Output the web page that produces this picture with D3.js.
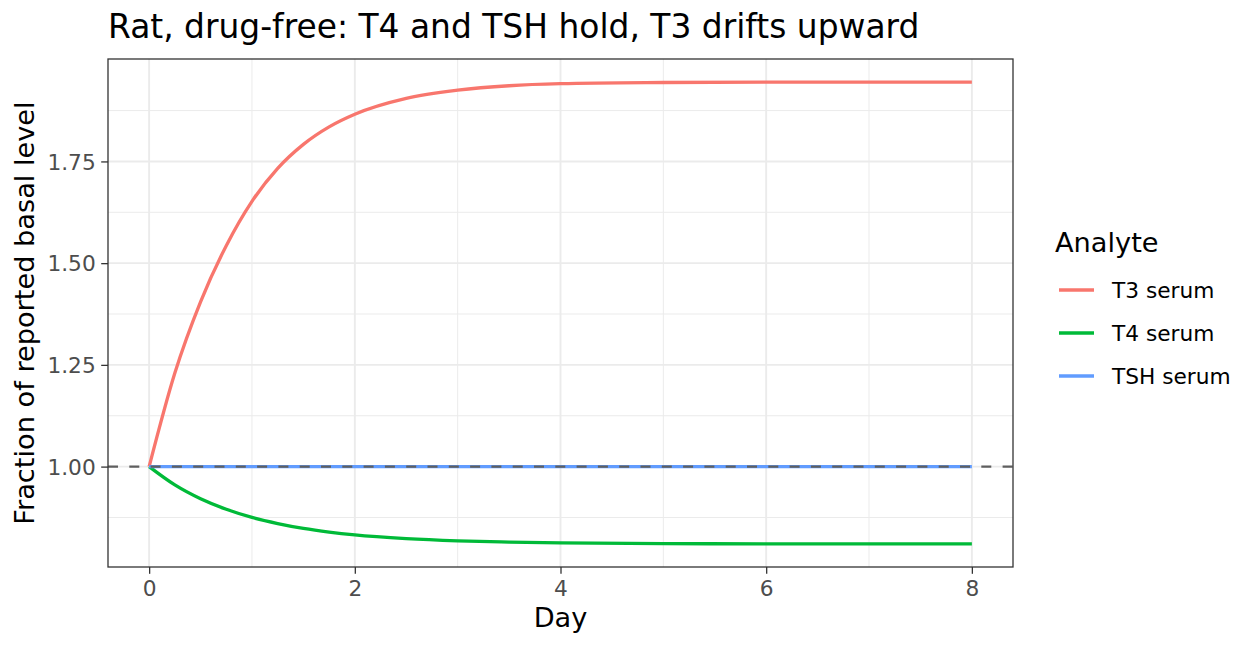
<!DOCTYPE html>
<html>
<head>
  <meta charset="utf-8">
  <script src="https://d3js.org/d3.v7.min.js"></script>
  <style>
    body {
      margin: 0;
      background: #ffffff;
    }
    svg text {
      font-family: "DejaVu Sans", sans-serif;
    }
  </style>
</head>
<body>
  <script type="text/javascript">
    "use strict";

    // values
    var days    = [0, 0.25, 0.5, 0.75, 1, 1.25, 1.5, 1.75, 2, 2.5, 3, 3.5, 4, 5, 6, 7, 8];
    var t3Vals  = [1.000, 1.230, 1.405, 1.543, 1.652, 1.733, 1.792, 1.835, 1.866, 1.905, 1.925, 1.936, 1.941, 1.944, 1.945, 1.945, 1.945];
    var t4Vals  = [1.000, 0.955, 0.921, 0.895, 0.875, 0.860, 0.848, 0.839, 0.832, 0.823, 0.8176, 0.8145, 0.8126, 0.8108, 0.8102, 0.810, 0.810];
    var tshVals = [1, 1, 1, 1, 1, 1, 1, 1, 1, 1, 1, 1, 1, 1, 1, 1, 1];

    var seriesNames  = ["T3 serum", "T4 serum", "TSH serum"];
    var seriesColors = ["#F8766D", "#00BA38", "#619CFF"];

    var xTicks = [0, 2, 4, 6, 8];
    var xMinor = [1, 3, 5, 7];
    var yTicks = [1.00, 1.25, 1.50, 1.75];
    var yMinor = [0.875, 1.125, 1.375, 1.625, 1.875];

    var baseline = 1;

    function draw() {
      var width = 1260, height = 648;
      var panel = {left: 108, right: 1013, top: 59, bottom: 567};

      var svg = d3.select("body")
                  .append("svg")
                  .attr("width", width)
                  .attr("height", height);

      var series = seriesNames.map(function(name, i) {
        var vals = [t3Vals, t4Vals, tshVals][i];
        return {
          name: name,
          color: seriesColors[i],
          points: days.map(function(d, j) { return {day: d, value: vals[j]}; })
        };
      });

      // ggplot-like 5% expansion of the data range
      var xExt = d3.extent(days);
      var xPad = (xExt[1] - xExt[0]) * 0.05;
      var yExt = d3.extent(t3Vals.concat(t4Vals, tshVals));
      var yPad = (yExt[1] - yExt[0]) * 0.05;

      var x = d3.scaleLinear()
                .domain([xExt[0] - xPad, xExt[1] + xPad])
                .range([panel.left, panel.right]);
      var y = d3.scaleLinear()
                .domain([yExt[0] - yPad, yExt[1] + yPad])
                .range([panel.bottom, panel.top]);

      // grid
      var grid = svg.append("g");
      grid.selectAll(".xminor").data(xMinor).enter().append("line")
          .attr("x1", x).attr("x2", x)
          .attr("y1", panel.top).attr("y2", panel.bottom)
          .attr("stroke", "#EBEBEB").attr("stroke-width", 1);
      grid.selectAll(".yminor").data(yMinor).enter().append("line")
          .attr("y1", y).attr("y2", y)
          .attr("x1", panel.left).attr("x2", panel.right)
          .attr("stroke", "#EBEBEB").attr("stroke-width", 1);
      grid.selectAll(".xmajor").data(xTicks).enter().append("line")
          .attr("x1", x).attr("x2", x)
          .attr("y1", panel.top).attr("y2", panel.bottom)
          .attr("stroke", "#EBEBEB").attr("stroke-width", 1.9);
      grid.selectAll(".ymajor").data(yTicks).enter().append("line")
          .attr("y1", y).attr("y2", y)
          .attr("x1", panel.left).attr("x2", panel.right)
          .attr("stroke", "#EBEBEB").attr("stroke-width", 1.9);

      // series lines
      var line = d3.line()
                   .x(function(d) { return x(d.day); })
                   .y(function(d) { return y(d.value); })
                   .curve(d3.curveMonotoneX);

      svg.append("g").selectAll("path")
         .data(series)
         .enter()
         .append("path")
         .attr("d", function(d) { return line(d.points); })
         .attr("fill", "none")
         .attr("stroke", function(d) { return d.color; })
         .attr("stroke-width", 3.3)
         .attr("stroke-linejoin", "round");

      // reference line at the basal level
      svg.append("line")
         .attr("x1", panel.left).attr("x2", panel.right)
         .attr("y1", y(baseline)).attr("y2", y(baseline))
         .attr("stroke", "#5F5F5F")
         .attr("stroke-width", 2.3)
         .attr("stroke-dasharray", "10,11.3");

      // panel border
      svg.append("rect")
         .attr("x", panel.left).attr("y", panel.top)
         .attr("width", panel.right - panel.left)
         .attr("height", panel.bottom - panel.top)
         .attr("fill", "none")
         .attr("stroke", "#333333")
         .attr("stroke-width", 1.3);

      // axes
      var xAxis = d3.axisBottom(x)
                    .tickValues(xTicks)
                    .tickFormat(d3.format("d"))
                    .tickSize(6.8)
                    .tickPadding(5);
      var gx = svg.append("g")
                  .attr("transform", "translate(0," + panel.bottom + ")")
                  .call(xAxis);

      var yAxis = d3.axisLeft(y)
                    .tickValues(yTicks)
                    .tickFormat(d3.format(".2f"))
                    .tickSize(6.8)
                    .tickPadding(5.5);
      var gy = svg.append("g")
                  .attr("transform", "translate(" + panel.left + ",0)")
                  .call(yAxis);

      [gx, gy].forEach(function(g) {
        g.select(".domain").remove();
        g.selectAll(".tick line")
         .attr("stroke", "#333333")
         .attr("stroke-width", 1.3);
        g.selectAll(".tick text")
         .attr("fill", "#4D4D4D")
         .style("font-size", "21.7px");
      });
      gx.selectAll(".tick text").attr("dy", null).attr("y", null)
        .attr("transform", "translate(0,29)");
      gy.selectAll(".tick text").attr("dy", "0.36em");

      // titles
      svg.append("text")
         .attr("x", 108)
         .attr("y", 37.5)
         .style("font-size", "32.9px")
         .attr("fill", "#000000")
         .text("Rat, drug-free: T4 and TSH hold, T3 drifts upward");

      svg.append("text")
         .attr("x", (panel.left + panel.right) / 2)
         .attr("y", 627)
         .attr("text-anchor", "middle")
         .style("font-size", "27.2px")
         .text("Day");

      svg.append("text")
         .attr("transform", "translate(34," + ((panel.top + panel.bottom) / 2) + ") rotate(-90)")
         .attr("text-anchor", "middle")
         .style("font-size", "27.2px")
         .text("Fraction of reported basal level");

      // legend
      var legend = svg.append("g")
                      .attr("transform", "translate(1055,0)");
      legend.append("text")
            .attr("x", 0)
            .attr("y", 251.7)
            .style("font-size", "27.2px")
            .text("Analyte");

      var keys = legend.selectAll(".key")
                       .data(series)
                       .enter()
                       .append("g")
                       .attr("transform", function(d, i) { return "translate(0," + (290 + i * 43) + ")"; });
      keys.append("line")
          .attr("x1", 4).attr("x2", 39)
          .attr("y1", 0).attr("y2", 0)
          .attr("stroke", function(d) { return d.color; })
          .attr("stroke-width", 3.3);
      keys.append("text")
          .attr("x", 57)
          .attr("y", 7.6)
          .style("font-size", "21.7px")
          .attr("fill", "#000000")
          .text(function(d) { return d.name; });
    }

    draw();
  </script>
</body>
</html>
